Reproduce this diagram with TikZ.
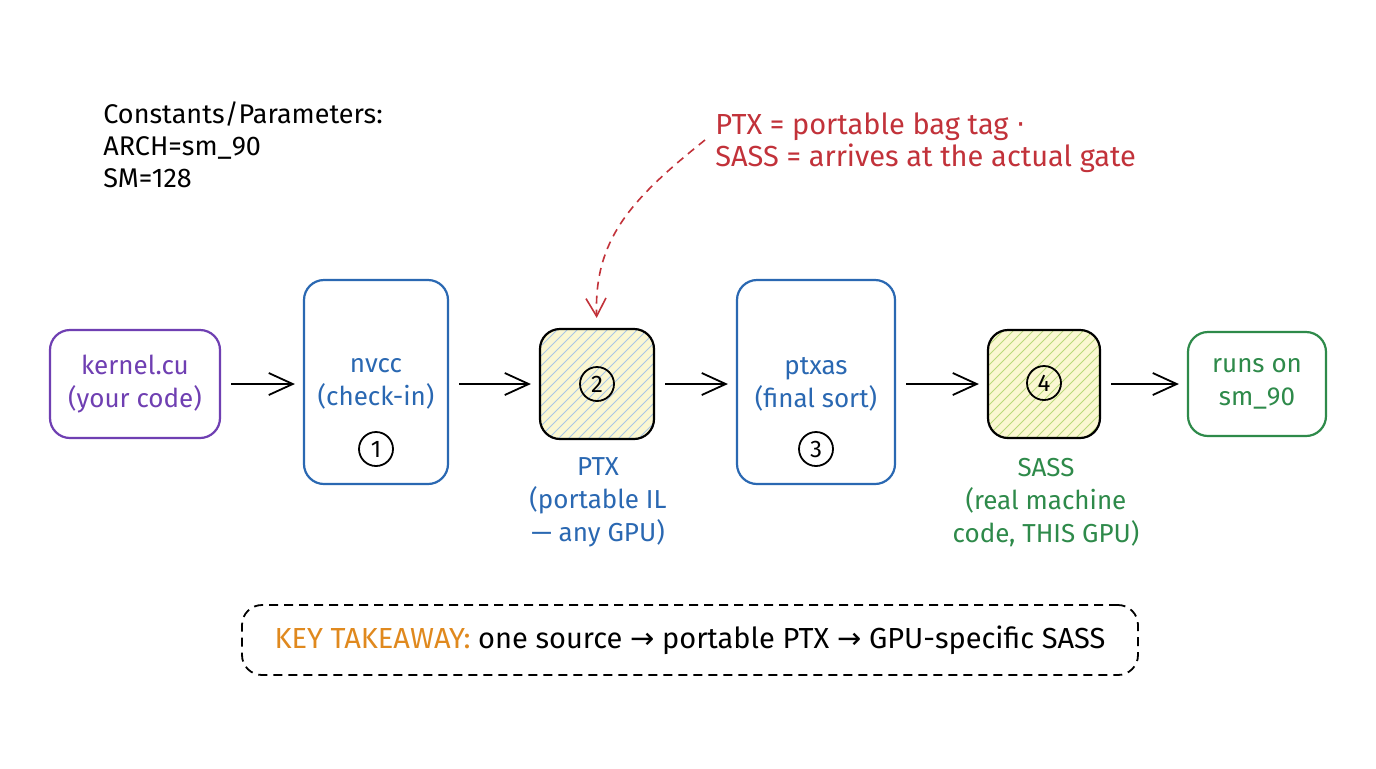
\documentclass[tikz,border=0pt]{standalone}
\usepackage{fontspec}
\setmainfont{Fira Sans}
\newfontfamily\symfont{DejaVu Sans}
\usetikzlibrary{arrows.meta,calc}
\definecolor{cpurple}{HTML}{6F3FB2}
\definecolor{cblue}{HTML}{2A68B2}
\definecolor{cgreen}{HTML}{2E8A4A}
\definecolor{cred}{HTML}{C2323A}
\definecolor{corange}{HTML}{E0891E}
\definecolor{ybg}{HTML}{FBF7D2}
\definecolor{hblue}{HTML}{A9C6E6}
\definecolor{hgreen}{HTML}{B9D97A}
\tikzset{
  box/.style={draw, line width=1.1pt, rounded corners=10pt, align=center, font=\fontsize{13}{16.5}\selectfont, inner sep=0pt},
  num/.style={draw=black, circle, line width=0.9pt, minimum size=17pt, inner sep=0pt, font=\fontsize{12}{12}\selectfont},
  flow/.style={-{Straight Barb[length=12pt,width=11pt]}, line width=0.9pt, shorten <=5pt, shorten >=4pt},
  lbl/.style={align=center, font=\fontsize{13}{16.5}\selectfont},
  hatchbox/.style 2 args={box, draw=black, path picture={
      \fill[#1] (path picture bounding box.south west) rectangle (path picture bounding box.north east);
      \foreach \d in {-66,-61,...,66}
        \draw[#2, line width=0.5pt] ([xshift=\d pt]path picture bounding box.south west) -- ++(70pt,70pt);
  }},
}
\begin{document}
\begin{tikzpicture}[x=0.5pt,y=-0.5pt]
\useasboundingbox (0,0) rectangle (1376,768);
\fill[white] (0,0) rectangle (1376,768);

% constants
\node[anchor=west, align=left, inner sep=0pt, font=\fontsize{13.5}{16}\selectfont] (consts) at (103,145)
  {Constants/Parameters:\\ARCH=sm\_90\\SM=128};

% annotation
\node[anchor=west, align=left, inner sep=0pt, text=cred, font=\fontsize{14.5}{16}\selectfont] (ann) at (715,143)
  {PTX = portable bag tag {\symfont·}\\SASS = arrives at the actual gate};

% boxes
\node[box, draw=cpurple, text=cpurple, minimum width=85pt, minimum height=54pt] (src) at (135,384)
  {kernel.cu\\(your code)};
\node[box, draw=cblue, minimum width=72pt, minimum height=102pt] (nvcc) at (376,382) {};
\node[text=cblue, lbl] (nvcct) at (376,384) {nvcc\\(check-in)};
\node[num] (n1) at (376,449) {1};

\node[hatchbox={ybg}{hblue}, minimum width=57pt, minimum height=55pt] (ptx) at (597,384) {};
\node[num] (n2) at (597,384) {2};
\node[lbl, text=cblue] (ptxl) at (598,502) {PTX\\(portable IL\\— any GPU)};

\node[box, draw=cblue, minimum width=79pt, minimum height=102pt] (ptxas) at (816,382) {};
\node[text=cblue, lbl] (ptxast) at (816,384) {ptxas\\(final sort)};
\node[num] (n3) at (816,449) {3};

\node[hatchbox={ybg}{hgreen}, minimum width=56pt, minimum height=54pt] (sass) at (1044,384) {};
\node[num] (n4) at (1044,383) {4};
\node[lbl, text=cgreen] (sassl) at (1046,503) {SASS\\(real machine\\code, THIS GPU)};

\node[box, draw=cgreen, text=cgreen, minimum width=69pt, minimum height=52pt] (run) at (1257,384)
  {runs on\\sm\_90};

% arrows
\draw[flow] (src.east) -- (nvcc.west |- src.east);
\draw[flow] (nvcc.east |- ptx.west) -- (ptx.west);
\draw[flow] (ptx.east) -- (ptxas.west |- ptx.east);
\draw[flow] (ptxas.east |- sass.west) -- (sass.west);
\draw[flow] (sass.east) -- (run.west |- sass.east);

% annotation arrow
\coordinate (annstart) at (705,140);
\draw[cred, line width=0.8pt, dash pattern=on 4pt off 3pt, -{Straight Barb[length=9pt,width=10pt]}, shorten >=5pt]
  (annstart) .. controls (630,200) and (594,240) .. (ptx.north);

% takeaway
\node[draw, line width=0.9pt, dash pattern=on 4.5pt off 3pt, rounded corners=10pt,
  minimum width=448pt, minimum height=35pt, font=\fontsize{14.5}{14}\selectfont] (take) at (690,640)
  {\textcolor{corange}{KEY TAKEAWAY:} one source {\symfont→} portable PTX {\symfont→} GPU-specific SASS};
\end{tikzpicture}
\end{document}
